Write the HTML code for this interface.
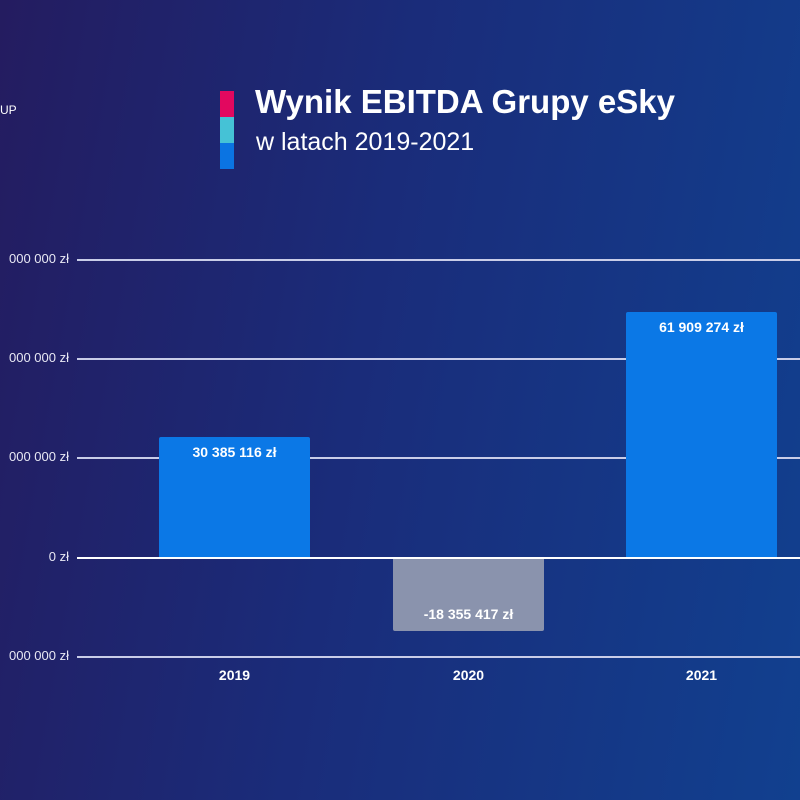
<!DOCTYPE html>
<html><head><style>
body{margin:0;width:800px;height:800px;overflow:hidden;font-family:"Liberation Sans",sans-serif;}
#bg{position:absolute;left:0;top:0;width:800px;height:800px;background:linear-gradient(100deg,#241c60 0%,#1a2c7a 45%,#11408f 100%);}
.t{position:absolute;color:#fff;white-space:nowrap}
.g{position:absolute;left:77px;width:723px;height:2px;background:#c9cde8}
.yl{position:absolute;right:731px;font-size:13px;color:#e8e8f4;white-space:nowrap}
.bar{position:absolute;border-radius:2px 2px 0 0}
.bl{position:absolute;width:151px;text-align:center;font-weight:bold;font-size:14px;color:#fff}
</style></head><body>
<div id="bg"></div>
<div class="t" style="left:0;top:103px;font-size:12px">UP</div>
<div style="position:absolute;left:220px;top:91px;width:14px;height:26px;background:#e2085f"></div>
<div style="position:absolute;left:220px;top:117px;width:14px;height:26px;background:#45c2d6"></div>
<div style="position:absolute;left:220px;top:143px;width:14px;height:26px;background:#0b74e2"></div>
<div class="t" style="left:255px;top:83px;font-size:33px;font-weight:bold">Wynik EBITDA Grupy eSky</div>
<div class="t" style="left:256px;top:128px;font-size:25px">w latach 2019-2021</div>
<div class="g" style="top:259px"></div>
<div class="g" style="top:358px"></div>
<div class="g" style="top:457px"></div>
<div class="g" style="top:557px;height:2px;background:#fff"></div>
<div class="g" style="top:656px"></div>
<div class="yl" style="top:251px">000 000 zł</div>
<div class="yl" style="top:350px">000 000 zł</div>
<div class="yl" style="top:449px">000 000 zł</div>
<div class="yl" style="top:549px">0 zł</div>
<div class="yl" style="top:648px">000 000 zł</div>
<div class="bar" style="left:159px;top:437px;width:151px;height:120px;background:#0b78e6"></div>
<div class="bar" style="left:393px;top:559px;width:151px;height:72px;background:#8a93ad;border-radius:0 0 2px 2px"></div>
<div class="bar" style="left:626px;top:312px;width:151px;height:245px;background:#0b78e6"></div>
<div class="bl" style="left:159px;top:444px">30 385 116 zł</div>
<div class="bl" style="left:393px;top:606px">-18 355 417 zł</div>
<div class="bl" style="left:626px;top:319px">61 909 274 zł</div>
<div class="bl" style="left:159px;top:667px">2019</div>
<div class="bl" style="left:393px;top:667px">2020</div>
<div class="bl" style="left:626px;top:667px">2021</div>
</body></html>
